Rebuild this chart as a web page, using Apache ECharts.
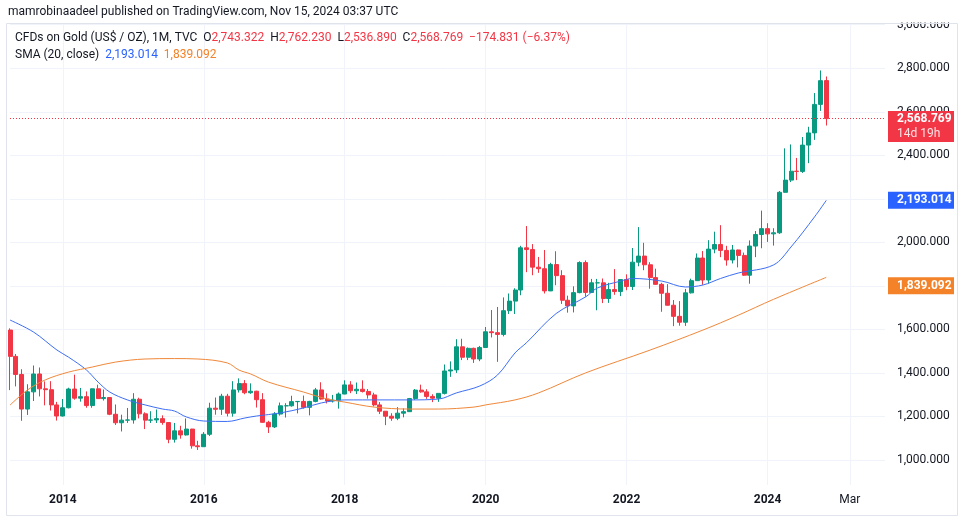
<!DOCTYPE html>
<html><head><meta charset="utf-8">
<script src="https://cdn.jsdelivr.net/npm/echarts@6/dist/echarts.min.js"></script>
<style>html,body{margin:0;padding:0;background:#fff}#c{width:968px;height:520px}</style>
</head><body><div id="c"></div>
<script>
// ---- categories: monthly bars from Apr 2013, axis runs to Sep 2025 ----
const months = [];
for (let i = 0; i < 150; i++) { const t = 3 + i; months.push((2013 + Math.floor(t / 12)) + '-' + String(t % 12 + 1).padStart(2, '0')); }
const xTickLabels = [['2014-01','2014'],['2016-01','2016'],['2018-01','2018'],['2020-01','2020'],['2022-01','2022'],['2024-01','2024'],['2025-03','Mar']];
const yTicks = [1000,1200,1400,1600,1800,2000,2200,2400,2600,2800,3000];

// ---- OHLC (Apr 2013 .. Nov 2024) ----
const open = [
 1597,1476,1393,1234,1313,1395,1327,1323,1253,
 1202,1240,1326,1284,1291,1250,1327,1282,1287,1210,1171,1183,
 1184,1279,1212,1183,1184,1190,1172,1095,1134,1115,1142,1065,
 1061,1118,1238,1233,1293,1215,1322,1351,1309,1316,1277,1173,
 1152,1211,1249,1249,1268,1269,1242,1269,1322,1280,1271,1275,
 1303,1345,1318,1325,1315,1299,1253,1224,1201,1192,1215,1222,
 1282,1321,1313,1292,1284,1306,1409,1414,1520,1472,1513,1464,
 1517,1589,1585,1577,1686,1730,1781,1975,1967,1886,1879,1777,
 1898,1847,1734,1708,1769,1907,1770,1814,1814,1742,1783,1774,
 1829,1797,1909,1937,1897,1838,1807,1766,1711,1660,1633,1768,
 1824,1928,1827,1969,1990,1963,1919,1965,1940,1849,1983,2036,
 2063,2039,2044,2230,2286,2327,2326,2447,2503,2634,2743.322];
const high = [
 1605,1487,1417,1348,1434,1425,1361,1362,1267,
 1280,1332,1392,1331,1315,1326,1346,1324,1287,1255,1208,1239,
 1307,1286,1219,1224,1232,1205,1174,1170,1157,1191,1143,1088,
 1128,1263,1287,1304,1304,1362,1375,1367,1352,1318,1307,1180,
 1220,1264,1261,1295,1270,1296,1272,1331,1357,1306,1299,1310,
 1366,1362,1356,1366,1326,1309,1266,1224,1215,1243,1237,1285,
 1326,1346,1325,1302,1306,1439,1453,1555,1557,1517,1516,1524,
 1611,1689,1703,1747,1765,1789,1984,2075,1992,1933,1965,1906,
 1959,1872,1755,1798,1913,1917,1832,1832,1834,1814,1877,1831,
 1853,1974,2070,1998,1909,1879,1814,1808,1735,1730,1786,1833,
 1949,1960,2010,2049,2079,1984,1988,1966,1953,2009,2052,2146,
 2088,2065,2236,2432,2450,2388,2484,2531,2686,2790,2762.230];
const low = [
 1321,1338,1180,1207,1271,1292,1251,1227,1181,
 1200,1237,1277,1268,1240,1240,1281,1273,1206,1161,1131,1170,
 1167,1191,1142,1170,1170,1162,1077,1080,1098,1112,1052,1046,
 1060,1110,1208,1207,1200,1199,1310,1302,1304,1241,1171,1124,
 1147,1204,1195,1245,1214,1236,1205,1265,1277,1260,1264,1236,
 1302,1307,1303,1310,1282,1246,1211,1160,1180,1183,1196,1221,
 1276,1309,1281,1266,1267,1301,1382,1400,1459,1459,1446,1454,
 1517,1563,1451,1568,1671,1671,1757,1863,1849,1860,1765,1776,
 1803,1717,1677,1678,1766,1750,1767,1688,1721,1722,1759,1753,
 1780,1781,1890,1872,1787,1805,1681,1709,1615,1617,1616,1765,
 1823,1805,1810,1950,1932,1893,1903,1885,1846,1810,1932,1973,
 2002,1985,2039,2229,2277,2286,2319,2364,2471,2604,2536.890];
const close = [
 1476,1393,1234,1313,1395,1327,1323,1253,1202,
 1240,1326,1284,1291,1250,1327,1282,1287,1210,1171,1183,1184,
 1279,1212,1183,1184,1190,1172,1095,1134,1115,1142,1065,1061,
 1118,1238,1233,1293,1215,1322,1351,1309,1316,1277,1173,1152,
 1211,1249,1249,1268,1269,1242,1269,1322,1280,1271,1275,1303,
 1345,1318,1325,1315,1299,1253,1224,1201,1192,1215,1222,1282,
 1321,1313,1292,1284,1306,1409,1414,1520,1472,1513,1464,1517,
 1589,1585,1577,1686,1730,1781,1975,1967,1886,1879,1777,1898,
 1847,1734,1708,1769,1907,1770,1814,1814,1742,1783,1774,1829,
 1797,1909,1937,1897,1838,1807,1766,1711,1660,1633,1768,1824,
 1928,1827,1969,1990,1963,1919,1965,1940,1849,1983,2036,2063,
 2039,2044,2230,2286,2327,2326,2447,2503,2634,2743,2568.769];

// ---- moving averages: [month index, value] ----
const sma20 = [[0,1643],[4,1588],[8,1505],[10,1472],[13,1414],[15,1358],[17,1312],[20,1276],[23,1253],[26,1234],[28,1225],[30,1198],[33,1179],[37,1177],[40,1193],[42,1202],[46,1216],[50,1239],[53,1262],[57,1276],[63,1276],[68,1276],[73,1280],[76,1308],[80,1340],[83,1390],[86,1492],[88,1540],[93,1673],[98,1749],[100,1790],[104,1822],[106,1834],[111,1822],[115,1795],[118,1804],[121,1834],[124,1859],[130,1896],[133,1979],[137,2117],[139,2193.014]];
const smaLong = [[0,1252],[3,1322],[6,1368],[10,1404],[14,1427],[18,1450],[23,1464],[28,1466],[32,1464],[37,1446],[39,1413],[41,1395],[44,1358],[50,1312],[54,1280],[57,1266],[62,1243],[68,1234],[73,1234],[79,1243],[81,1253],[86,1276],[90,1308],[98,1400],[109,1505],[118,1597],[124,1665],[130,1738],[139,1839.092]];

const lastClose = 2568.769, sma20Last = 2193.014, smaLongLast = 1839.092;
const UP = '#089981', DOWN = '#f23645', BLUE = '#2962ff', ORANGE = '#f38228', TXT = '#131722', GRID = '#f0f3fa';
const FONT = 'Roboto';

const labelMap = {}; xTickLabels.forEach(p => labelMap[p[0]] = p[1]);
const isTick = (i, v) => Object.prototype.hasOwnProperty.call(labelMap, v);
const fmt = v => Number(v).toLocaleString('en-US', {minimumFractionDigits: 3, maximumFractionDigits: 3});

const chart = echarts.init(document.getElementById('c'), null, {renderer: 'canvas'});
chart.setOption({
  animation: false,
  backgroundColor: '#ffffff',
  grid: {left: 10, right: 83, top: 23, bottom: 35},
  xAxis: {
    type: 'category', data: months, boundaryGap: false,
    axisLine: {show: false}, axisTick: {show: false},
    axisLabel: {
      interval: isTick, margin: 9, color: TXT, fontFamily: FONT, fontSize: 12,
      formatter: v => labelMap[v] === 'Mar' ? '{m|Mar}' : '{y|' + labelMap[v] + '}',
      rich: {y: {fontWeight: 'bold', fontSize: 12, color: TXT, fontFamily: FONT}, m: {fontSize: 12, color: TXT, fontFamily: FONT}}
    },
    splitLine: {show: false}
  },
  yAxis: {
    type: 'value', position: 'right', min: 885, max: 3008, splitNumber: 10, scale: true,
    axisLine: {show: false}, axisTick: {show: false},
    axisLabel: {
      margin: 12, color: TXT, fontFamily: FONT, fontSize: 12, showMinLabel: false, showMaxLabel: false,
      formatter: v => yTicks.indexOf(Math.round(v)) >= 0 && Math.abs(v - Math.round(v)) < 1e-6 ? fmt(v) : ''
    },
    splitLine: {show: false}
  },
  series: [
    {
      // grid lines only (drawn behind the marks)
      type: 'line', data: [], z: 0, silent: true,
      markLine: {
        silent: true, symbol: 'none', label: {show: false}, z: 0,
        lineStyle: {type: 'solid', color: GRID, width: 1},
        data: yTicks.map(v => ({yAxis: v})).concat(xTickLabels.map(p => ({xAxis: p[0]})))
      }
    },
    {
      type: 'candlestick', clip: false, barWidth: 4.5, z: 2,
      data: open.map((o, i) => [o, close[i], low[i], high[i]]),
      itemStyle: {color: UP, color0: DOWN, borderColor: UP, borderColor0: DOWN, borderWidth: 1},
      markLine: {
        silent: true, symbol: 'none', label: {show: false},
        lineStyle: {type: [1, 2], color: DOWN, width: 1},
        data: [{yAxis: lastClose}]
      }
    },
    {type: 'line', data: sma20, smooth: 0.35, showSymbol: false, lineStyle: {color: '#3d6ef5', width: 1}, z: 3},
    {type: 'line', data: smaLong, smooth: 0.35, showSymbol: false, lineStyle: {color: '#f0883a', width: 1}, z: 3}
  ]
});

const py = v => chart.convertToPixel({yAxisIndex: 0}, v);
const yClose = py(lastClose), ySma = py(sma20Last), yLong = py(smaLongLast);
const boxX = 888, boxW = 66, txtX = 897;
const txt = (x, y, s, style) => ({type: 'text', x: x, y: y, z: 100, style: Object.assign({text: s, fontFamily: FONT, fontSize: 12, fill: TXT, verticalAlign: 'middle'}, style || {})});

chart.setOption({
  graphic: [
    {type: 'rect', z: 90, shape: {x: 860, y: 0, width: 108, height: 22.5}, style: {fill: '#ffffff'}},
    {type: 'rect', z: 91, shape: {x: 6.5, y: 23.5, width: 951, height: 492}, style: {fill: 'none', stroke: '#e0e3eb', lineWidth: 1}},
    txt(8, 12, 'mamrobinaadeel published on TradingView.com, Nov 15, 2024 03:37 UTC', {fontSize: 12}),
    {type: 'text', x: 15, y: 38, z: 100, style: {
      text: '{t|CFDs on Gold (US$ / OZ), 1M, TVC}  {t|O}{r|2,743.322}  {t|H}{r|2,762.230}  {t|L}{r|2,536.890}  {t|C}{r|2,568.769}  {r|−174.831 (−6.37%)}',
      verticalAlign: 'middle', fontFamily: FONT, fontSize: 12,
      rich: {t: {fill: TXT, fontFamily: FONT, fontSize: 12}, r: {fill: DOWN, fontFamily: FONT, fontSize: 12}}
    }},
    {type: 'text', x: 15, y: 55, z: 100, style: {
      text: '{t|SMA (20, close)}  {b|' + fmt(sma20Last) + '}  {o|' + fmt(smaLongLast) + '}',
      verticalAlign: 'middle', fontFamily: FONT, fontSize: 12,
      rich: {t: {fill: TXT, fontFamily: FONT, fontSize: 12}, b: {fill: BLUE, fontFamily: FONT, fontSize: 12}, o: {fill: ORANGE, fontFamily: FONT, fontSize: 12}}
    }},
    {type: 'rect', z: 95, shape: {x: boxX, y: yClose - 7.5, width: boxW, height: 31}, style: {fill: DOWN}},
    txt(txtX, yClose, fmt(lastClose), {fill: '#ffffff', fontWeight: 'bold'}),
    txt(txtX, yClose + 15, '14d 19h', {fill: '#ffffff', opacity: 0.85}),
    {type: 'rect', z: 95, shape: {x: boxX, y: ySma - 8.5, width: boxW, height: 17}, style: {fill: BLUE}},
    txt(txtX, ySma, fmt(sma20Last), {fill: '#ffffff', fontWeight: 'bold'}),
    {type: 'rect', z: 95, shape: {x: boxX, y: yLong, width: boxW, height: 17}, style: {fill: ORANGE}},
    txt(txtX, yLong + 8.5, fmt(smaLongLast), {fill: '#ffffff', fontWeight: 'bold'})
  ]
});
</script></body></html>
